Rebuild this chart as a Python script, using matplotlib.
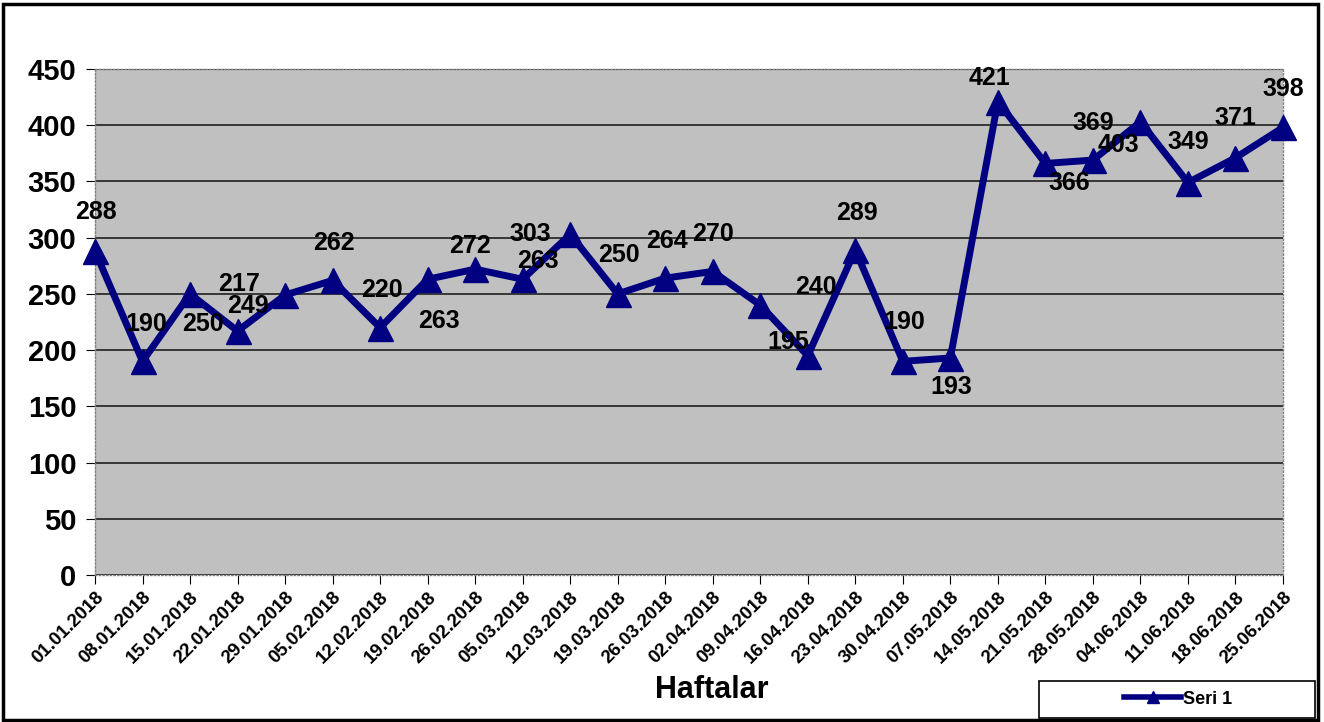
import matplotlib
matplotlib.use("Agg")
import matplotlib.pyplot as plt
from matplotlib.patches import Rectangle
from matplotlib.lines import Line2D

plt.rcParams['font.family'] = ['Liberation Sans', 'DejaVu Sans']
plt.rcParams['font.weight'] = 'bold'

weeks = ['01.01.2018', '08.01.2018', '15.01.2018', '22.01.2018', '29.01.2018',
         '05.02.2018', '12.02.2018', '19.02.2018', '26.02.2018', '05.03.2018',
         '12.03.2018', '19.03.2018', '26.03.2018', '02.04.2018', '09.04.2018',
         '16.04.2018', '23.04.2018', '30.04.2018', '07.05.2018', '14.05.2018',
         '21.05.2018', '28.05.2018', '04.06.2018', '11.06.2018', '18.06.2018',
         '25.06.2018']
values = [288, 190, 250, 217, 249, 262, 220, 263, 272, 263, 303, 250, 264,
          270, 240, 195, 289, 190, 193, 421, 366, 369, 403, 349, 371, 398]
y_ticks = [0, 50, 100, 150, 200, 250, 300, 350, 400, 450]

# label offsets in points (dx, dy)
label_offsets = [(1, 28), (3, 27), (9, -22), (1, 34), (-27, -8), (1, 27),
                 (1, 27), (8, -30), (-4, 17), (11, 13), (-29, 0), (1, 28),
                 (1, 27), (0, 27), (40, 13), (-14, 10), (1, 27), (1, 28),
                 (1, -21), (-6, 17), (17, -14), (0, 27), (-16, -17), (0, 29),
                 (0, 29), (0, 28)]

fig = plt.figure(figsize=(13.24, 7.22), dpi=100)
ax = fig.add_axes([95/1324, 1-575/722, (1283-95)/1324, (575-69)/722])
ax.set_facecolor('#C0C0C0')

x = list(range(len(weeks)))
ax.plot(x, values, color='#000080', linewidth=5, marker='^',
        markersize=18, zorder=3, clip_on=False)

for i, v in enumerate(values):
    dx, dy = label_offsets[i]
    ax.annotate(str(v), (i, v), xytext=(dx, dy), textcoords='offset points',
                ha='center', va='center', fontsize=18, fontweight='bold',
                color='black', zorder=4, annotation_clip=False)

ax.set_xlim(0, len(weeks) - 1)
ax.set_ylim(0, 450)
ax.set_yticks(y_ticks)
ax.set_yticklabels([str(t) for t in y_ticks], fontsize=21, fontweight='bold')
ax.set_xticks(x)
ax.set_xticklabels(weeks, rotation=45, ha='right', rotation_mode='anchor',
                   fontsize=13.5, fontweight='bold')
ax.tick_params(axis='both', direction='out', length=6.5, color='black')
ax.tick_params(axis='y', pad=7)
ax.tick_params(axis='x', pad=3)
ax.yaxis.grid(True, color='#202020', linewidth=1.2)
ax.set_axisbelow(True)
for s in ax.spines.values():
    s.set_linestyle(':')
    s.set_color('#808080')
    s.set_linewidth(1)

fig.text(712/1324, 1-690/722, 'Haftalar', ha='center', va='center',
         fontsize=22, fontweight='bold')

# outer frame
fig.patches.append(Rectangle((3/1324, 2/722), 1315/1324, 716/722,
                             transform=fig.transFigure, fill=False,
                             edgecolor='black', linewidth=2.5))
# legend box
fig.patches.append(Rectangle((1039/1324, 1-718/722), 276/1324, 37/722,
                             transform=fig.transFigure, fill=False,
                             edgecolor='black', linewidth=1.2, zorder=5))
handle = Line2D([], [], color='#000080', linewidth=4, marker='^',
                markersize=8)
fig.legend([handle], ['Seri 1'], loc='center',
           bbox_to_anchor=(1178/1324, 1-699/722), frameon=False,
           prop={'weight': 'bold', 'size': 13}, handlelength=3.2,
           handletextpad=0.1)

fig.savefig('out.png', dpi=100)
